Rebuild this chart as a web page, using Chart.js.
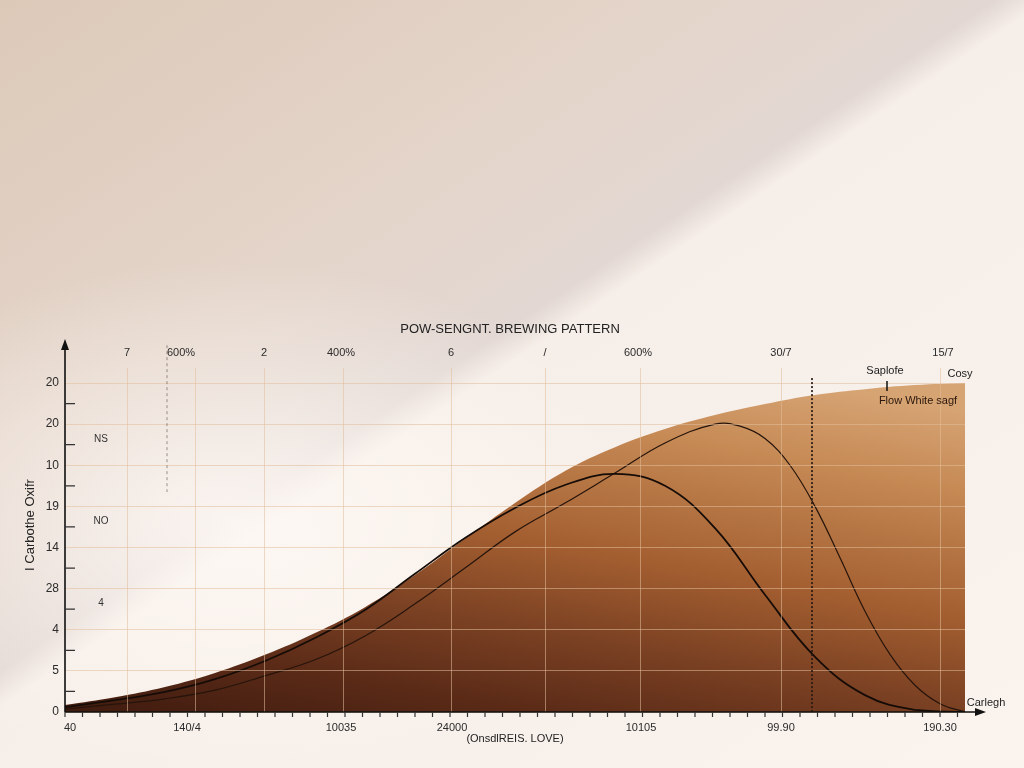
<!DOCTYPE html>
<html>
<head>
<meta charset="utf-8">
<title>Brewing pattern</title>
<script src="https://cdn.jsdelivr.net/npm/chart.js@4"></script>
<style>
  html, body { margin: 0; padding: 0; }
  body {
    width: 1024px; height: 768px; overflow: hidden;
    background:
      radial-gradient(ellipse 420px 260px at 230px 520px, rgba(255,250,246,0.85), rgba(255,250,246,0) 100%),
      linear-gradient(146deg, #dcc9b8 0%, #e4d5ca 32%, #e2d7d2 46%, #f6eee8 48.5%, #faf3ee 100%);
  }
  #wrap { position: relative; width: 1024px; height: 768px; }
</style>
</head>
<body>
<div id="wrap"><canvas id="brewChart"></canvas></div>
<script>
// Datos
const yTickLabels = ['0', '5', '4', '28', '14', '19', '10', '20', '20'];
const topTickPos = [62, 116, 199, 276, 386, 480, 573, 716, 878];
const topTickLabels = ['7', '600%', '2', '400%', '6', '/', '600%', '30/7', '15/7'];
const bottomTickPos = [5, 122, 276, 387, 576, 716, 875];
const bottomTickLabels = ['40', '140/4', '10035', '24000', '10105', '99.90', '190.30'];
const gridPos = [62, 130, 199, 278, 386, 480, 575, 716, 875];

// Área (envolvente)
const envelopeX = [0, 50, 100, 150, 200, 250, 300, 350, 400, 450, 500, 550, 600, 650, 700, 750, 800, 850, 900];
const envelopeY = [0.17, 0.36, 0.61, 0.95, 1.39, 1.92, 2.55, 3.33, 4.21, 5.08, 5.86, 6.44, 6.88, 7.22, 7.49, 7.71, 7.85, 7.95, 8.00];

// Curva negra (pico temprano)
const earlyX = [0, 50, 100, 150, 200, 250, 300, 350, 400, 450, 500, 550, 600, 650, 700, 750, 800, 850, 900];
const earlyY = [0.12, 0.29, 0.49, 0.80, 1.24, 1.80, 2.48, 3.36, 4.23, 4.96, 5.52, 5.79, 5.50, 4.47, 2.85, 1.34, 0.41, 0.05, 0];

// Curva fina (pico tardío)
const lateX = [0, 50, 100, 150, 200, 250, 300, 350, 400, 450, 500, 550, 600, 650, 675, 700, 725, 750, 775, 800, 825, 850, 875, 900];
const lateY = [0.07, 0.19, 0.32, 0.53, 0.88, 1.27, 1.85, 2.63, 3.50, 4.38, 5.08, 5.81, 6.54, 7.00, 6.95, 6.65, 6.00, 5.00, 3.75, 2.45, 1.40, 0.65, 0.20, 0];

// Líneas punteadas: x, desde, hasta
const markerLines = [[102, 8.92, 5.35], [747, 8.12, 0]];
const sideNotes = ['NS', 'NO', '4'];
const sideNoteY = [6.64, 4.64, 2.65];

const toPts = (xs, ys) => xs.map((x, i) => ({ x: x, y: ys[i] }));
const FONT = '"Liberation Sans", Arial, sans-serif';
const gridColor = 'rgba(226, 190, 154, 0.55)';

function envelopeFill(context) {
  const area = context.chart.chartArea;
  if (!area) return '#8a4a26';
  const g = context.chart.ctx.createLinearGradient(area.left, area.bottom, area.left + 80, area.bottom - 447);
  g.addColorStop(0, '#3f1b0f');
  g.addColorStop(0.18, '#5a2a17');
  g.addColorStop(0.36, '#7b4123');
  g.addColorStop(0.55, '#a35e30');
  g.addColorStop(0.83, '#c68a55');
  g.addColorStop(1, '#d6a373');
  return g;
}

const decor = {
  id: 'decor',
  afterDraw(chart) {
    const c = chart.ctx;
    const xs = chart.scales.x;
    const ys = chart.scales.y;
    const a = chart.chartArea;
    c.save();

    // líneas punteadas
    markerLines.forEach((m, i) => {
      const px = xs.getPixelForValue(m[0]);
      c.beginPath();
      c.setLineDash(i === 0 ? [3, 3] : [2, 2]);
      c.strokeStyle = i === 0 ? 'rgba(90,80,75,0.6)' : 'rgba(40,25,18,0.85)';
      c.lineWidth = i === 0 ? 1 : 2;
      c.moveTo(px, ys.getPixelForValue(m[1]));
      c.lineTo(px, ys.getPixelForValue(m[2]));
      c.stroke();
    });
    c.setLineDash([]);

    // ejes con flechas
    c.strokeStyle = '#111';
    c.fillStyle = '#111';
    c.lineWidth = 1.6;
    c.beginPath();
    c.moveTo(a.left, a.bottom);
    c.lineTo(a.left, a.top - 22);
    c.moveTo(a.left, a.bottom);
    c.lineTo(a.right + 14, a.bottom);
    c.stroke();
    c.beginPath();
    c.moveTo(a.left, a.top - 29);
    c.lineTo(a.left - 4, a.top - 18);
    c.lineTo(a.left + 4, a.top - 18);
    c.closePath();
    c.fill();
    c.beginPath();
    c.moveTo(a.right + 21, a.bottom);
    c.lineTo(a.right + 10, a.bottom - 4);
    c.lineTo(a.right + 10, a.bottom + 4);
    c.closePath();
    c.fill();

    // marcas menores
    c.lineWidth = 1.2;
    c.strokeStyle = '#333';
    c.beginPath();
    for (let v = 0.5; v < 8; v += 1) {
      const py = ys.getPixelForValue(v);
      c.moveTo(a.left, py);
      c.lineTo(a.left + 10, py);
    }
    for (let v = 0; v <= 900; v += 17.5) {
      const px = xs.getPixelForValue(v);
      c.moveTo(px, a.bottom);
      c.lineTo(px, a.bottom + 5);
    }
    c.stroke();

    // textos
    c.fillStyle = '#222';
    c.textAlign = 'center';
    c.textBaseline = 'middle';
    c.font = '13px ' + FONT;
    c.fillText('POW-SENGNT. BREWING PATTERN', 510, 329);

    c.font = '11px ' + FONT;
    c.fillText('(OnsdlREIS. LOVE)', 515, 739);

    c.save();
    c.translate(30, 525);
    c.rotate(-Math.PI / 2);
    c.font = '13px ' + FONT;
    c.fillText('I Carbothe Oxifr', 0, 0);
    c.restore();

    c.font = '10px ' + FONT;
    c.fillStyle = '#333';
    sideNotes.forEach((t, i) => {
      c.fillText(t, xs.getPixelForValue(36), ys.getPixelForValue(sideNoteY[i]));
    });

    c.font = '11px ' + FONT;
    c.fillStyle = '#222';
    c.fillText('Saplofe', 885, 371);
    c.fillText('Cosy', 960, 374);
    c.fillText('Carlegh', 986, 703);
    c.fillStyle = '#2a170c';
    c.fillText('Flow White sagf', 918, 401);

    // pequeño marcador
    c.strokeStyle = '#111';
    c.lineWidth = 1.5;
    c.beginPath();
    c.moveTo(887, 381);
    c.lineTo(887, 391);
    c.stroke();
    c.restore();
  }
};

new Chart(document.getElementById('brewChart'), {
  type: 'line',
  data: {
    datasets: [
      {
        label: 'Early',
        data: toPts(earlyX, earlyY),
        borderColor: '#160c07',
        borderWidth: 1.8,
        pointRadius: 0,
        fill: false,
        tension: 0.4,
        order: 0
      },
      {
        label: 'Late',
        data: toPts(lateX, lateY),
        borderColor: '#26140b',
        borderWidth: 1.2,
        pointRadius: 0,
        fill: false,
        tension: 0.4,
        order: 1
      },
      {
        label: 'Envelope',
        data: toPts(envelopeX, envelopeY),
        borderWidth: 0,
        borderColor: 'rgba(0,0,0,0)',
        backgroundColor: envelopeFill,
        pointRadius: 0,
        fill: 'origin',
        tension: 0.4,
        order: 2
      }
    ]
  },
  options: {
    responsive: true,
    maintainAspectRatio: false,
    animation: false,
    layout: { padding: { left: 0, top: 0, right: 59, bottom: 0 } },
    plugins: { legend: { display: false }, tooltip: { enabled: false } },
    scales: {
      x: {
        type: 'linear', position: 'bottom', min: 0, max: 900,
        afterBuildTicks: s => { s.ticks = bottomTickPos.map(v => ({ value: v })); },
        afterFit: s => { s.height = 56; },
        grid: { display: false }, border: { display: false },
        ticks: {
          autoSkip: false, maxRotation: 0, padding: 1, color: '#2b2b2b',
          font: { family: FONT, size: 11 },
          callback: (v, i) => bottomTickLabels[i]
        }
      },
      xGrid: {
        type: 'linear', position: 'bottom', min: 0, max: 900,
        afterBuildTicks: s => { s.ticks = gridPos.map(v => ({ value: v })); },
        afterFit: s => { s.height = 0; },
        grid: { color: gridColor, lineWidth: 1, drawTicks: false, z: 1 },
        border: { display: false },
        ticks: { display: false }
      },
      xTop: {
        type: 'linear', position: 'top', min: 0, max: 900,
        afterBuildTicks: s => { s.ticks = topTickPos.map(v => ({ value: v })); },
        afterFit: s => { s.height = 368; },
        grid: { display: false }, border: { display: false },
        ticks: {
          autoSkip: false, maxRotation: 0, padding: 0, color: '#2b2b2b',
          font: { family: FONT, size: 11 },
          callback: (v, i) => topTickLabels[i]
        }
      },
      y: {
        type: 'linear', min: 0, max: 8.365,
        afterBuildTicks: s => { s.ticks = yTickLabels.map((t, i) => ({ value: i })); },
        afterFit: s => { s.width = 65; },
        grid: { color: gridColor, lineWidth: 1, drawTicks: false, z: 1 },
        border: { display: false },
        ticks: {
          padding: 6, color: '#2b2b2b',
          font: { family: FONT, size: 12 },
          callback: (v, i) => yTickLabels[i]
        }
      }
    }
  },
  plugins: [decor]
});
</script>
</body>
</html>
